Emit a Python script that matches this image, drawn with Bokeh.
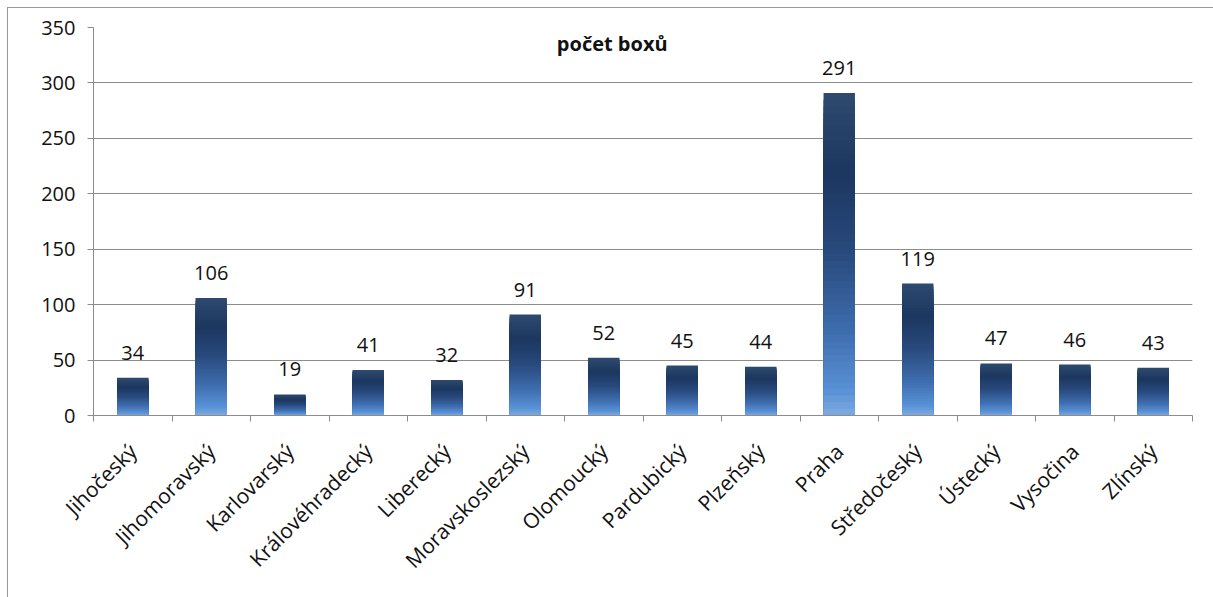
import numpy as np
from bokeh.plotting import figure
from bokeh.layouts import column, row
from bokeh.models import (FactorRange, Range1d, LinearAxis, CategoricalAxis, FixedTicker,
                          ColumnDataSource, Label, Spacer)
from bokeh.core.properties import value
from bokeh.embed import file_html
from bokeh.resources import INLINE

regions = ["Jihočeský", "Jihomoravský", "Karlovarský", "Královéhradecký", "Liberecký",
           "Moravskoslezský", "Olomoucký", "Pardubický", "Plzeňský", "Praha",
           "Středočeský", "Ústecký", "Vysočina", "Zlínský"]
counts = [34, 106, 19, 41, 32, 91, 52, 45, 44, 291, 119, 47, 46, 43]
title_text = "počet boxů"
y_ticks = [0, 50, 100, 150, 200, 250, 300, 350]

FONT = "Open Sans"
GRID = "#8c8c8c"
TXT = "#111111"

p = figure(x_range=FactorRange(*regions), y_range=Range1d(0, 350),
           width=1205, height=589, output_backend="svg", toolbar_location=None,
           x_axis_location=None, y_axis_location=None,
           min_border_left=85, min_border_top=19, min_border_right=21, min_border_bottom=182,
           background_fill_color="white", border_fill_color="white")
p.outline_line_color = None
p.styles = {"outline": "1px solid #9a9a9a"}

# y axis
yax = LinearAxis(ticker=FixedTicker(ticks=y_ticks))
yax.axis_line_color = GRID
yax.major_tick_line_color = GRID
yax.major_tick_out = 6
yax.major_tick_in = 0
yax.minor_tick_line_color = None
yax.major_label_text_font = FONT
yax.major_label_text_font_size = "20px"
yax.major_label_text_color = TXT
yax.major_label_standoff = 12
p.add_layout(yax, "left")

# tick marks on the boundaries between categories (synthetic category coordinates)
tax = LinearAxis(ticker=FixedTicker(ticks=list(range(len(regions) + 1))))
tax.axis_line_color = GRID
tax.major_tick_line_color = GRID
tax.major_tick_out = 6
tax.major_tick_in = 0
tax.minor_tick_line_color = None
tax.major_label_text_font_size = "0px"
tax.major_label_text_color = None
tax.major_label_standoff = 0
p.add_layout(tax, "below")

# category labels
cax = CategoricalAxis()
cax.axis_line_color = None
cax.major_tick_line_color = None
cax.major_label_orientation = np.pi / 4
cax.major_label_text_font = FONT
cax.major_label_text_font_size = "21px"
cax.major_label_text_color = TXT
cax.major_label_standoff = 20
p.add_layout(cax, "below")

p.xgrid.grid_line_color = None
p.ygrid.grid_line_color = GRID
p.ygrid.ticker = FixedTicker(ticks=y_ticks)

# gradient bars: overlapping layers, each covering from 0 up to a fraction of the bar
stops_t = [0.0, 0.25, 0.5, 0.75, 0.93, 1.0]
stops_c = [(0x2e, 0x4a, 0x6e), (0x1c, 0x37, 0x5f), (0x29, 0x4a, 0x7e),
           (0x3f, 0x6f, 0xb0), (0x5a, 0x93, 0xd8), (0x80, 0xaa, 0xe0)]
n_slices = 48
xs, tops, cols = [], [], []
for k in range(n_slices):
    t_mid = (k + 0.5) / n_slices
    rgb = [int(round(np.interp(t_mid, stops_t, [c[i] for c in stops_c]))) for i in range(3)]
    for r, v in zip(regions, counts):
        xs.append(r)
        tops.append(v * (1 - k / n_slices))
        cols.append("#%02x%02x%02x" % tuple(rgb))
src = ColumnDataSource(dict(x=xs, top=tops, color=cols))
p.vbar(x="x", top="top", bottom=0, width=0.4, fill_color="color", line_color=None, source=src)

# value labels
lsrc = ColumnDataSource(dict(x=regions, y=counts, t=[str(c) for c in counts]))
p.text(x="x", y="y", text="t", source=lsrc, text_align="center", text_baseline="alphabetic",
       y_offset=-25, text_font=value(FONT), text_font_size="20px", text_color=TXT)

# title inside plot
p.add_layout(Label(x=len(regions) * 0.472, y=336, text=title_text, text_align="center",
                   text_baseline="middle", text_font=FONT, text_font_size="20px",
                   text_font_style="bold", text_color=TXT))

layout = column(Spacer(height=8), row(Spacer(width=8), p))
open("out.html", "w").write(file_html(layout, INLINE))
